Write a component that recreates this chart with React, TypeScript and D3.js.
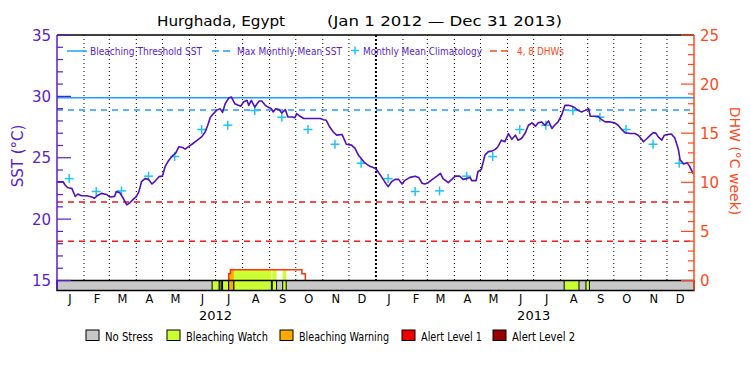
import * as d3 from "d3";

const W = 750;
const H = 375;
const L = 57;
const R = 694;
const TOP = 35;
const BASE = 280.5;
const BAR = 290.5;
const FONT = "DejaVu Sans";

const PURPLE = "#5A1EC8";
const LINE = "#5210B8";
const BLUE = "#1E9EFF";
const CYAN = "#1EC4F5";
const RED = "#F01818";
const ORANGE = "#FF4A1A";

// daily SST (day 0 = Jan 1 2012)
const sstDay = [
  0, 7, 9, 12, 17, 21, 24, 28, 34, 40, 43, 46, 51, 57, 61, 66, 68, 72, 76, 80, 84, 88, 91, 94, 97, 101, 105, 109, 112,
  117, 121, 124, 128, 133, 136, 140, 144, 147, 151, 156, 161, 166, 170, 173, 176, 179, 183, 187, 190, 193, 197, 200,
  204, 208, 211, 214, 218, 220, 223, 227, 232, 235, 239, 242, 246, 248, 251, 255, 258, 262, 265, 270, 273, 275, 279,
  283, 288, 296, 302, 306, 309, 313, 317, 321, 327, 330, 332, 338, 342, 346, 350, 353, 359, 365, 367, 371, 376, 380,
  384, 388, 392, 396, 399, 405, 411, 415, 419, 422, 426, 430, 436, 440, 443, 449, 453, 457, 462, 466, 470, 474, 476,
  481, 483, 487, 491, 495, 499, 503, 506, 510, 514, 518, 522, 526, 529, 533, 537, 541, 545, 549, 552, 556, 560, 564,
  568, 571, 575, 579, 583, 587, 591, 594, 598, 602, 606, 610, 612, 617, 621, 625, 629, 635, 640, 644, 648, 652, 658,
  663, 667, 671, 673, 677, 681, 684, 687, 690, 694, 697, 702, 705, 709, 713, 715, 719, 723, 726, 730,
];
const sstValue = [
  23.05, 23.05, 22.8, 22.57, 22.5, 21.84, 22.05, 21.9, 21.9, 21.8, 21.7, 21.9, 22.1, 22.0, 21.8, 21.85, 22.24, 22.16,
  21.7, 21.16, 21.35, 21.65, 21.84, 22.24, 23.05, 23.3, 23.24, 22.86, 23.05, 23.46, 23.5, 24.27, 24.76, 25.2, 25.35,
  25.9, 25.84, 25.7, 25.9, 26.16, 26.43, 26.7, 27.1, 27.65, 28.3, 28.54, 28.86, 29.0, 28.7, 29.4, 29.86, 29.95, 29.4,
  29.27, 29.2, 29.54, 29.68, 29.27, 29.68, 29.13, 29.62, 29.62, 29.27, 29.13, 29.0, 28.73, 29.0, 28.92, 28.65, 28.92,
  28.32, 28.32, 28.27, 28.6, 28.38, 28.2, 28.2, 28.2, 28.2, 28.1, 28.05, 27.5, 27.1, 26.84, 26.9, 26.43, 26.1, 26.03,
  25.76, 25.2, 24.86, 24.6, 24.3, 24.14, 24.0, 23.6, 23.05, 22.65, 23.05, 23.24, 23.24, 22.86, 23.14, 23.4, 23.5,
  23.4, 22.92, 22.86, 22.97, 23.2, 23.5, 23.73, 23.3, 22.97, 23.24, 23.5, 23.5, 23.24, 23.3, 23.4, 23.14, 23.14,
  23.86, 24.05, 25.2, 25.5, 25.54, 25.68, 25.9, 26.43, 26.3, 26.97, 26.5, 26.84, 26.43, 26.57, 26.97, 27.65, 27.84,
  27.57, 27.84, 27.92, 27.65, 28.0, 27.38, 27.65, 27.92, 28.46, 29.27, 29.27, 29.2, 29.08, 28.86, 28.73, 28.86, 29.0,
  28.38, 28.38, 28.38, 28.1, 27.92, 27.92, 27.84, 27.65, 27.3, 27.03, 26.97, 26.97, 26.84, 26.5, 26.3, 26.57, 26.84,
  27.03, 27.03, 26.7, 26.43, 26.84, 26.92, 26.94, 26.6, 25.7, 24.84, 24.5, 24.6, 24.3, 23.7,
];

// monthly mean climatology, Jan..Dec
const climValue = [23.3, 22.25, 22.3, 23.5, 25.1, 27.3, 27.65, 28.85, 28.3, 27.3, 26.1, 24.55];
const MMM = 28.88;
const THRESHOLD = 29.88;
const dhwLevels = [4, 8];

// degree heating weeks (step)
const dhwDay = [197, 197, 199, 281, 285];
const dhwValue = [0, 0.7, 1.1, 0.7, 0];

// bleaching stress runs: start day, end day, level
const stressStart = [178, 187, 190, 197, 203, 247, 259, 582, 607];
const stressEnd = [186, 189, 197, 203, 246, 252, 263, 599, 611];
const stressLevel = [1, 1, 1, 2, 1, 1, 1, 1, 1];

const stressNames = ["No Stress", "Bleaching Watch", "Bleaching Warning", "Alert Level 1", "Alert Level 2"];
const stressColors = ["#C8C8C8", "#CCFF33", "#FFAA00", "#EE0000", "#990000"];
const monthLetters = ["J", "F", "M", "A", "M", "J", "J", "A", "S", "O", "N", "D"];
const years = [2012, 2013];
const sstTicks = [15, 20, 25, 30, 35];
const dhwTicks = [0, 5, 10, 15, 20, 25];

const legendX = [86, 167, 280, 402, 493];
const legendW = [48, 82, 90, 61, 63];

const dayDate = (d: number) => new Date(2012, 0, 1 + d);

export default function App() {
  const x = d3.scaleTime().domain([new Date(2012, 0, 1), new Date(2014, 0, 1)]).range([L, R]);
  const ySst = d3.scaleLinear().domain([15, 35]).range([BASE, TOP]);
  const yDhw = d3.scaleLinear().domain([0, 25]).range([BASE, TOP]);

  const months = d3.timeMonths(new Date(2012, 0, 1), new Date(2014, 0, 1));

  const sstLine = d3
    .line<number>()
    .x((_, i) => x(dayDate(sstDay[i])))
    .y((v) => ySst(v))(sstValue) ?? "";

  const dhwPts = dhwDay.map((d, i) => [d, dhwValue[i]] as [number, number]);
  const dhwArea = d3
    .area<[number, number]>()
    .x((d) => x(dayDate(d[0])))
    .y0(BASE)
    .y1((d) => yDhw(d[1]))
    .curve(d3.curveStepAfter)(dhwPts) ?? "";
  const dhwLine = d3
    .line<[number, number]>()
    .x((d) => x(dayDate(d[0])))
    .y((d) => yDhw(d[1]))
    .curve(d3.curveStepAfter)(dhwPts) ?? "";

  const runs = stressStart.map((s, i) => ({
    x0: x(dayDate(s)),
    x1: x(dayDate(stressEnd[i])),
    level: stressLevel[i],
  }));

  const clim = years.flatMap((yr) => climValue.map((v, m) => ({ date: new Date(yr, m, 15), v })));

  return (
    <svg
      width={W}
      height={H}
      style={{ position: "absolute", left: 0, top: 0, background: "#fff" }}
      fontFamily={FONT}
    >
      <rect width={W} height={H} fill="#fff" />

      {/* title */}
      <text x={157} y={26} fontSize={14.5} textLength={128} lengthAdjust="spacingAndGlyphs">
        Hurghada, Egypt
      </text>
      <text x={327} y={26} fontSize={14.5} textLength={235} lengthAdjust="spacingAndGlyphs">
        (Jan 1 2012 — Dec 31 2013)
      </text>

      {/* month dividers */}
      {months.slice(1).map((m, i) => {
        const yearEdge = m.getMonth() === 0;
        return (
          <line
            key={i}
            x1={x(m)}
            x2={x(m)}
            y1={TOP}
            y2={BASE}
            stroke="#000"
            strokeWidth={yearEdge ? 2 : 1}
            strokeDasharray={yearEdge ? "2 2" : "1 3"}
          />
        );
      })}

      {/* reference lines */}
      <line x1={L} x2={R} y1={ySst(THRESHOLD)} y2={ySst(THRESHOLD)} stroke={BLUE} strokeWidth={1.5} />
      <line x1={L} x2={R} y1={ySst(MMM)} y2={ySst(MMM)} stroke={BLUE} strokeWidth={1.5} strokeDasharray="6 5" />
      {dhwLevels.map((d) => (
        <line key={d} x1={L} x2={R} y1={yDhw(d)} y2={yDhw(d)} stroke={RED} strokeWidth={1.5} strokeDasharray="6 5" />
      ))}

      {/* DHW step area coloured by stress */}
      <defs>
        <clipPath id="dhwclip">
          <path d={dhwArea} />
        </clipPath>
      </defs>
      <g clipPath="url(#dhwclip)">
        {runs.map((r, i) => (
          <rect key={i} x={r.x0} y={yDhw(3)} width={r.x1 - r.x0} height={BASE - yDhw(3)} fill={stressColors[r.level]} />
        ))}
      </g>
      <path d={dhwLine} fill="none" stroke="#FF3311" strokeWidth={1.5} />

      {/* climatology */}
      {clim.map((c, i) => {
        const cx = x(c.date);
        const cy = ySst(c.v);
        return (
          <g key={i} stroke={CYAN} strokeWidth={1.5}>
            <line x1={cx - 4.5} x2={cx + 4.5} y1={cy} y2={cy} />
            <line x1={cx} x2={cx} y1={cy - 4.5} y2={cy + 4.5} />
          </g>
        );
      })}

      {/* SST */}
      <path d={sstLine} fill="none" stroke={LINE} strokeWidth={1.6} strokeLinejoin="round" />

      {/* stress bar */}
      <rect x={L} y={BASE} width={R - L} height={BAR - BASE} fill={stressColors[0]} />
      {runs.map((r, i) => (
        <rect key={i} x={r.x0} y={BASE} width={r.x1 - r.x0} height={BAR - BASE} fill={stressColors[r.level]} stroke="#000" strokeWidth={1} />
      ))}
      <rect x={L} y={BASE} width={R - L} height={BAR - BASE} fill="none" stroke="#000" strokeWidth={1.5} />

      {/* frame */}
      <line x1={L} x2={R} y1={TOP} y2={TOP} stroke="#000" strokeWidth={1.5} />

      {/* left axis */}
      <line x1={L} x2={L} y1={TOP} y2={BAR} stroke={PURPLE} strokeWidth={1.5} />
      {d3.range(15, 36).map((t) => (
        <line key={t} x1={L} x2={L + (t % 5 === 0 ? 14 : 6)} y1={ySst(t)} y2={ySst(t)} stroke={PURPLE} strokeWidth={1.2} />
      ))}
      {sstTicks.map((t) => (
        <text key={t} x={51} y={ySst(t) + 5.5} textAnchor="end" fontSize={15} fill={PURPLE}>
          {t}
        </text>
      ))}
      <text transform="translate(23,156) rotate(-90)" textAnchor="middle" fontSize={15} fill={PURPLE}>
        SST (°C)
      </text>

      {/* right axis */}
      <line x1={R} x2={R} y1={TOP} y2={BAR} stroke={ORANGE} strokeWidth={1.5} />
      {d3.range(0, 26).map((t) => (
        <line key={t} x1={R} x2={R - (t % 5 === 0 ? 13 : 6)} y1={yDhw(t)} y2={yDhw(t)} stroke={ORANGE} strokeWidth={1.2} />
      ))}
      {dhwTicks.map((t) => (
        <text key={t} x={700} y={yDhw(t) + 5.5} fontSize={15} fill={ORANGE}>
          {t}
        </text>
      ))}
      <text transform="translate(730,161) rotate(90)" textAnchor="middle" fontSize={14} fill={ORANGE}>
        DHW (°C week)
      </text>

      {/* month and year labels */}
      {months.map((m, i) => (
        <text key={i} x={x(d3.timeDay.offset(m, 15))} y={303} textAnchor="middle" fontSize={11.5}>
          {monthLetters[m.getMonth()]}
        </text>
      ))}
      {years.map((yr) => (
        <text key={yr} x={x(new Date(yr, 6, 1))} y={320} textAnchor="middle" fontSize={13}>
          {yr}
        </text>
      ))}

      {/* top legend */}
      <line x1={67} x2={87} y1={51} y2={51} stroke={BLUE} strokeWidth={1.5} />
      <text x={90} y={55} fontSize={10.5} fill={PURPLE} textLength={112} lengthAdjust="spacingAndGlyphs">
        Bleaching Threshold SST
      </text>
      <line x1={212} x2={230} y1={51} y2={51} stroke={BLUE} strokeWidth={1.5} strokeDasharray="7 4" />
      <text x={237} y={55} fontSize={10.5} fill={PURPLE} textLength={105} lengthAdjust="spacingAndGlyphs">
        Max Monthly Mean SST
      </text>
      <g stroke={CYAN} strokeWidth={1.5}>
        <line x1={351} x2={359} y1={50.5} y2={50.5} />
        <line x1={355} x2={355} y1={46.5} y2={54.5} />
      </g>
      <text x={363} y={55} fontSize={10.5} fill={PURPLE} textLength={119} lengthAdjust="spacingAndGlyphs">
        Monthly Mean Climatology
      </text>
      <line x1={490} x2={510} y1={51} y2={51} stroke={ORANGE} strokeWidth={1.5} strokeDasharray="7 4" />
      <text x={517} y={55} fontSize={10.5} fill={ORANGE} textLength={47} lengthAdjust="spacingAndGlyphs">
        4, 8 DHWs
      </text>

      {/* bottom legend */}
      {stressNames.map((n, i) => (
        <g key={n}>
          <rect x={legendX[i]} y={330} width={13} height={10.5} fill={stressColors[i]} stroke="#000" strokeWidth={1} />
          <text x={legendX[i] + 19} y={340.5} fontSize={12.5} textLength={legendW[i]} lengthAdjust="spacingAndGlyphs">
            {n}
          </text>
        </g>
      ))}
    </svg>
  );
}
